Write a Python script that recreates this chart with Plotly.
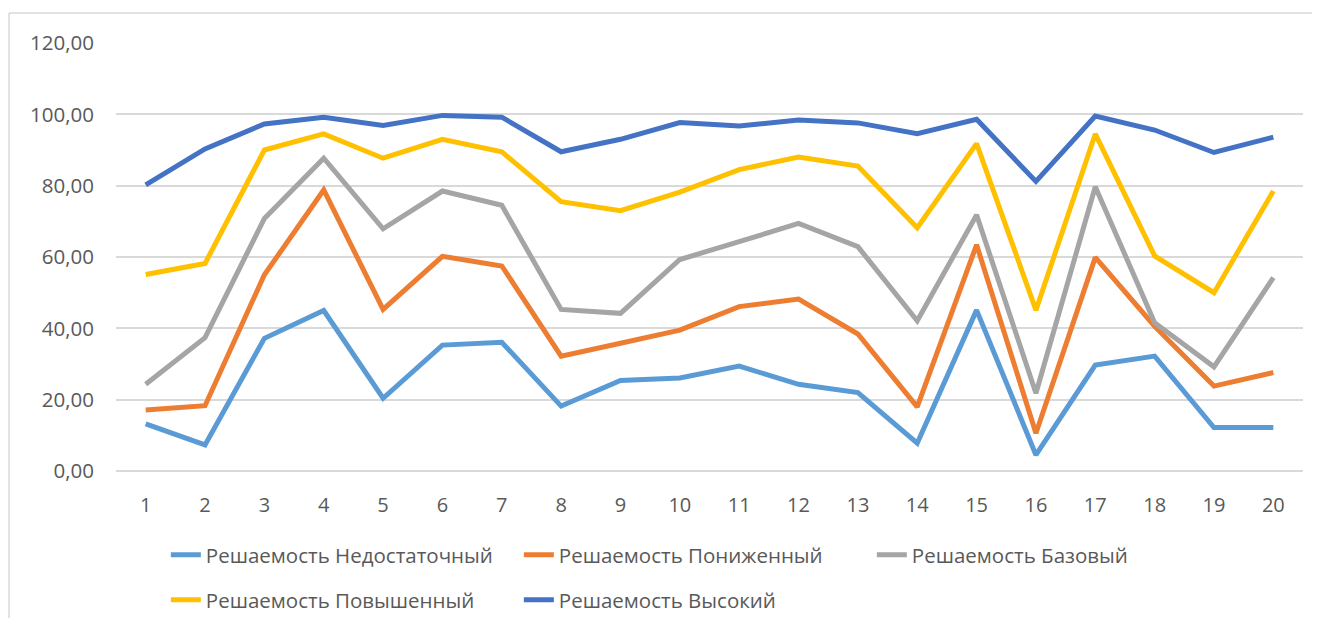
import plotly.graph_objects as go

# task numbers
tasks = list(range(1, 21))

# solve rate by level
nedostatochny = [13.2, 7.3, 37.2, 45.0, 20.4, 35.3, 36.1, 18.2, 25.4, 26.1,
                 29.4, 24.3, 22.0, 7.8, 45.1, 4.5, 29.7, 32.2, 12.2, 12.2]
ponizhenny = [17.1, 18.3, 55.0, 78.8, 45.3, 60.2, 57.5, 32.2, 35.8, 39.5,
              46.1, 48.2, 38.4, 18.0, 63.4, 10.6, 59.9, 40.6, 23.8, 27.6]
bazovy = [24.3, 37.4, 70.8, 87.7, 67.9, 78.5, 74.5, 45.3, 44.2, 59.3,
          64.3, 69.4, 62.9, 42.1, 71.8, 21.8, 79.7, 41.6, 29.2, 54.2]
povyshenny = [55.1, 58.2, 90.0, 94.5, 87.7, 93.0, 89.5, 75.5, 73.0, 78.2,
              84.5, 88.0, 85.5, 68.2, 91.8, 45.1, 94.5, 60.3, 50.0, 78.5]
vysoky = [80.2, 90.3, 97.3, 99.2, 96.9, 99.7, 99.2, 89.5, 93.0, 97.7,
          96.7, 98.4, 97.6, 94.6, 98.6, 81.2, 99.5, 95.6, 89.3, 93.6]

series = [
    ("Решаемость Недостаточный", nedostatochny, "#5B9BD5", "legend"),
    ("Решаемость Пониженный", ponizhenny, "#ED7D31", "legend"),
    ("Решаемость Базовый", bazovy, "#A5A5A5", "legend"),
    ("Решаемость Повышенный", povyshenny, "#FFC000", "legend2"),
    ("Решаемость Высокий", vysoky, "#4472C4", "legend2"),
]

font = "Open Sans, Noto Sans, sans-serif"
text_col = "#595959"
grid_col = "#D9D9D9"

fig = go.Figure()
for name, vals, col, leg in series:
    fig.add_trace(go.Scatter(
        x=tasks, y=vals, name=name, mode="lines",
        line=dict(color=col, width=5),
        legend=leg,
    ))

legend_style = dict(
    orientation="h",
    xanchor="left", yanchor="middle",
    font=dict(family=font, size=20.5, color=text_col),
    entrywidth=308, entrywidthmode="pixels",
    bgcolor="rgba(0,0,0,0)",
    traceorder="normal",
)

# chart-area border: only the left and top edges are visible in the picture
border = dict(color=grid_col, width=1.5)
shapes = [
    dict(type="line", xref="paper", yref="paper",
         x0=-0.0901, x1=-0.0901, y0=-2, y1=1.0701, line=border, layer="below"),
    dict(type="line", xref="paper", yref="paper",
         x0=-0.0901, x1=2, y0=1.0701, y1=1.0701, line=border, layer="below"),
]

# page body has an 8px margin, so the figure is sized/offset to compensate
fig.update_layout(
    width=1304, height=610,
    margin=dict(l=108, r=9, t=35, b=147, autoexpand=False),
    paper_bgcolor="white", plot_bgcolor="white",
    separators=", ",
    showlegend=True,
    legend=dict(legend_style, x=0.042, y=-0.196),
    legend2=dict(legend_style, x=0.042, y=-0.301),
    xaxis=dict(
        range=[0.5, 20.5], tickmode="array", tickvals=tasks,
        showgrid=False, zeroline=False, showline=False,
        ticks="outside", ticklen=16, tickcolor="rgba(0,0,0,0)",
        tickfont=dict(family=font, size=20, color=text_col),
    ),
    yaxis=dict(
        range=[0, 120], dtick=20, tickformat=".2f",
        showgrid=True, gridcolor=grid_col, gridwidth=1.5,
        zeroline=True, zerolinecolor=grid_col, zerolinewidth=1.5,
        showline=False,
        ticks="outside", ticklen=17, tickcolor="rgba(0,0,0,0)",
        tickfont=dict(family=font, size=20.5, color=text_col),
    ),
    shapes=shapes,
)

fig.write_html("out.html")
